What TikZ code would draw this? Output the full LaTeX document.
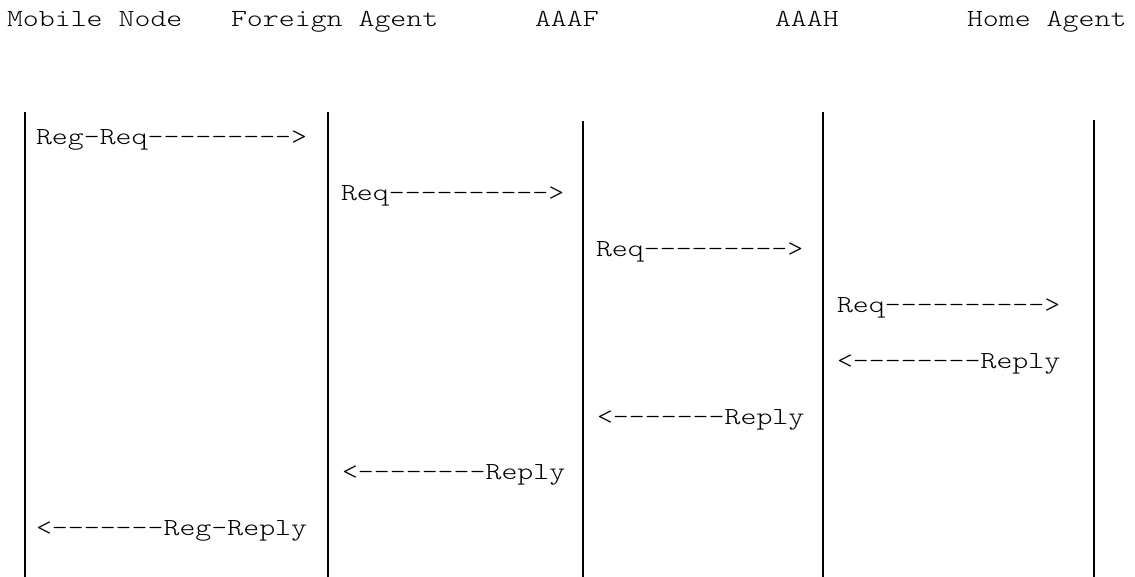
\documentclass[tikz,border=0pt]{standalone}
\usepackage{fontspec}
\newfontfamily\seqmono[FakeStretch=1.24]{lmmonolt10-regular.otf}
\tikzset{
  lbl/.style={anchor=base west, inner sep=0pt, outer sep=0pt, font=\seqmono\fontsize{24.5}{24.5}\selectfont},
  life/.style={line width=2pt, black}
}
\begin{document}
\begin{tikzpicture}[x=1pt, y=-1pt]
\useasboundingbox (0,0) rectangle (1135,577);
% header row
\node[lbl] (hMN) at (7,27) {Mobile Node};
\node[lbl] (hFA) at (231,27) {Foreign Agent};
\node[lbl] (hAF) at (535,27) {AAAF};
\node[lbl] (hAH) at (775,27) {AAAH};
\node[lbl] (hHA) at (967,27) {Home Agent};
% lifelines
\coordinate (mnT) at (25,112);   \coordinate (mnB) at (25,577);
\coordinate (faT) at (327.5,112);\coordinate (faB) at (327.5,577);
\coordinate (afT) at (583,121);  \coordinate (afB) at (583,577);
\coordinate (ahT) at (823,112);  \coordinate (ahB) at (823,577);
\coordinate (haT) at (1094,120); \coordinate (haB) at (1094,577);
\draw[life] (mnT) -- (mnB);
\draw[life] (faT) -- (faB);
\draw[life] (afT) -- (afB);
\draw[life] (ahT) -- (ahB);
\draw[life] (haT) -- (haB);
% messages
\node[lbl] (m1) at (36,145)    {Reg-Req--------->};
\node[lbl] (m2) at (341,200.8) {Req---------->};
\node[lbl] (m3) at (596,256.6) {Req--------->};
\node[lbl] (m4) at (837,312.4) {Req---------->};
\node[lbl] (m5) at (837,368.2) {<--------Reply};
\node[lbl] (m6) at (597,424)   {<-------Reply};
\node[lbl] (m7) at (342,479.8) {<--------Reply};
\node[lbl] (m8) at (36,535.6)  {<-------Reg-Reply};
\end{tikzpicture}
\end{document}
